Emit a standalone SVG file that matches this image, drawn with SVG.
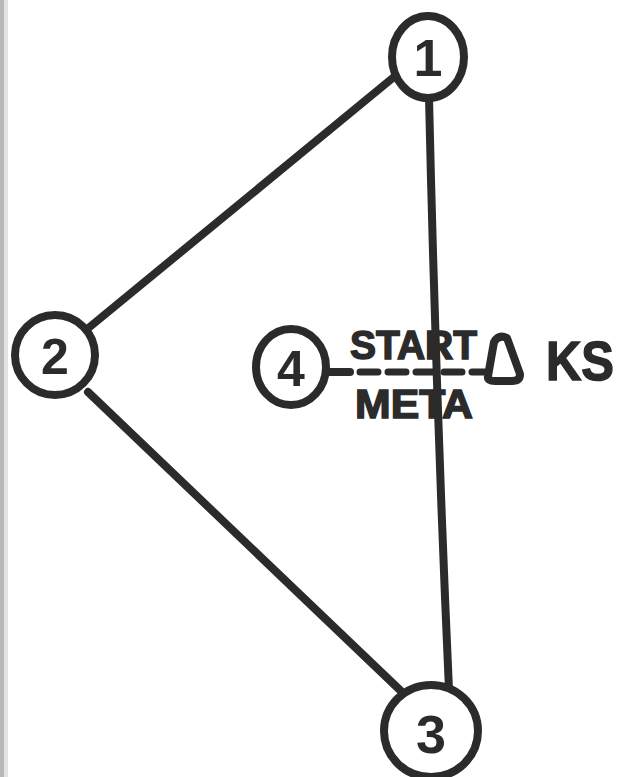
<svg xmlns="http://www.w3.org/2000/svg" width="627" height="777" viewBox="0 0 627 777">
<style>
.ln{fill:none;stroke:#2b2b2b;stroke-width:8;stroke-linecap:round;stroke-linejoin:round}
.nd{fill:#fff;stroke:#2b2b2b;stroke-width:8}
.num{font-family:"Liberation Sans",Arial,sans-serif;font-weight:bold;fill:#2b2b2b;text-anchor:middle}
.lbl{font-family:"Liberation Sans",Arial,sans-serif;font-weight:bold;fill:#2b2b2b;stroke:#2b2b2b;stroke-width:1.5}
</style>
<rect width="627" height="777" fill="#fff"/>
<rect x="0" y="0" width="4" height="777" fill="#b8b8b8"/>
<rect x="4" y="0" width="4" height="777" fill="#e2e2e2"/>
<g id="connectors">
<path class="ln" d="M400 72 L86 330"/>
<path class="ln" d="M88 392 L402 692"/>
<path class="ln" d="M429 98 Q436 400 449 690"/>
<path class="ln" d="M327 372 L350 372"/>
<path d="M360 372 L485 372" fill="none" stroke="#2b2b2b" stroke-width="7" stroke-linecap="round" stroke-dasharray="18 10"/>
</g>
<g id="node1"><ellipse class="nd" cx="428" cy="57" rx="36" ry="41"/><text class="num" x="428" y="76" font-size="52">1</text></g>
<g id="node2"><ellipse class="nd" cx="55" cy="355" rx="40" ry="40"/><text class="num" x="55" y="374" font-size="50">2</text></g>
<g id="node3"><ellipse class="nd" cx="431" cy="731" rx="47" ry="46"/><text class="num" x="431" y="753" font-size="54">3</text></g>
<g id="node4"><ellipse class="nd" cx="291" cy="367" rx="35" ry="38"/><text class="num" x="291" y="386" font-size="50">4</text></g>
<g id="ks">
<path d="M488 376 L494 342 Q499 334 507 338 L520 374 Q520 381 512 381 L495 381 Q487 381 488 376 Z" fill="#fff" stroke="#2b2b2b" stroke-width="8" stroke-linejoin="round"/>
<text class="lbl" x="546" y="380" font-size="56" textLength="68" lengthAdjust="spacingAndGlyphs">KS</text>
</g>
<g id="labels">
<text class="lbl" x="350" y="359" font-size="40" textLength="127" lengthAdjust="spacingAndGlyphs">START</text>
<text class="lbl" x="355" y="418" font-size="40" textLength="118" lengthAdjust="spacingAndGlyphs">META</text>
</g>
</svg>
